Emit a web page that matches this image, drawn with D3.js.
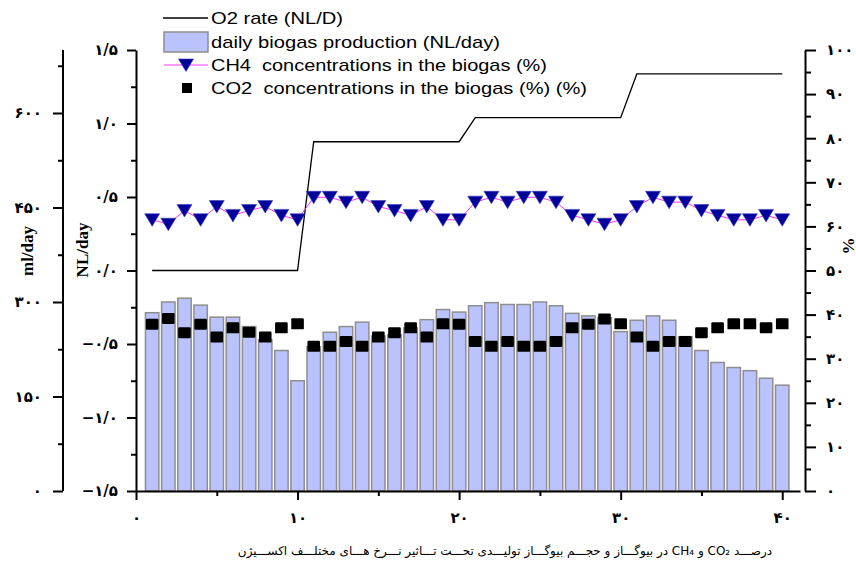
<!DOCTYPE html>
<html>
<head>
<meta charset="utf-8">
<script src="https://cdn.jsdelivr.net/npm/d3@7"></script>
<style>
  html, body { margin: 0; padding: 0; background: #fff; }
  #wrap { position: relative; width: 856px; height: 566px; overflow: hidden; }
  svg { position: absolute; left: 0; top: 0; }
  .caption { position: absolute; font-family: "DejaVu Sans", sans-serif; font-size: 12px; white-space: nowrap; color: #000; }
</style>
</head>
<body>
<div id="wrap"></div>
<script>
// ---------- DATA ----------
const days = d3.range(1, 41);
const biogas = [283, 300, 306, 295, 276, 276, 261, 240, 223, 175,
                229, 252, 261, 268, 246, 248, 259, 272, 288, 284,
                294, 299, 296, 296, 300, 294, 282, 278, 275, 253,
                271, 278, 271, 245, 223, 204, 196, 191, 179, 168];
const ch4 = [61.5, 60.5, 63.6, 61.5, 64.5, 62.5, 63.6, 64.5, 62.5, 61.5,
             66.6, 66.6, 65.5, 66.6, 64.5, 63.6, 62.5, 64.5, 61.5, 61.5,
             65.5, 66.6, 65.5, 66.6, 66.6, 65.5, 62.5, 61.5, 60.5, 61.5,
             64.5, 66.6, 65.5, 65.5, 63.6, 62.5, 61.5, 61.5, 62.5, 61.5];
const co2 = [37.8, 39.1, 35.9, 37.8, 34.9, 37.0, 36.0, 34.9, 37.0, 37.9,
             32.8, 32.8, 33.9, 32.8, 34.9, 35.9, 37.0, 34.9, 37.9, 37.8,
             33.9, 32.8, 33.9, 32.8, 32.8, 33.9, 37.0, 37.8, 39.0, 37.9,
             34.9, 32.8, 33.9, 33.9, 35.9, 37.0, 37.9, 37.9, 37.0, 37.9];
const o2rate = [0, 0, 0, 0, 0, 0, 0, 0, 0, 0,
                0.876, 0.876, 0.876, 0.876, 0.876, 0.876, 0.876, 0.876, 0.876, 0.876,
                1.04, 1.04, 1.04, 1.04, 1.04, 1.04, 1.04, 1.04, 1.04, 1.04,
                1.337, 1.337, 1.337, 1.337, 1.337, 1.337, 1.337, 1.337, 1.337, 1.337];

const xTicks = [0, 10, 20, 30, 40];
const xTickLabels = ["۰", "۱۰", "۲۰", "۳۰", "۴۰"];
const xMinor = [5, 15, 25, 35];
const mlTicks = [0, 150, 300, 450, 600];
const mlTickLabels = ["۰", "۱۵۰", "۳۰۰", "۴۵۰", "۶۰۰"];
const mlMinor = [75, 225, 375, 525, 675];
const nlTicks = [-1.5, -1.0, -0.5, 0, 0.5, 1.0, 1.5];
const nlTickLabels = ["−۱/۵", "−۱/۰", "−۰/۵", "۰/۰", "۰/۵", "۱/۰", "۱/۵"];
const nlMinor = [-1.25, -0.75, -0.25, 0.25, 0.75, 1.25];
const pctTicks = [0, 10, 20, 30, 40, 50, 60, 70, 80, 90, 100];
const pctTickLabels = ["۰", "۱۰", "۲۰", "۳۰", "۴۰", "۵۰", "۶۰", "۷۰", "۸۰", "۹۰", "۱۰۰"];
const pctMinor = [5, 15, 25, 35, 45, 55, 65, 75, 85, 95];

const legendLabels = ["O2 rate (NL/D)", "daily biogas production (NL/day)",
                      "CH4  concentrations in the biogas (%)",
                      "CO2  concentrations in the biogas (%) (%)"];
const captionText = "درصـــد CO₂ و CH₄ در بیوگـــاز و حجـــم بیوگـــاز تولیـــدی تحـــت تـــاثیر نـــرخ هـــای مختلـــف اکســـیژن";

// ---------- LAYOUT ----------
const W = 856, H = 566;
const plotL = 136, plotR = 800, plotT = 50, plotB = 491;
const outerAxisX = 63, rightAxisX = 805;

const x = d3.scaleLinear().domain([0, 41.1]).range([plotL, plotR]);
const yMl = d3.scaleLinear().domain([0, 700]).range([plotB, plotT]);
const yNl = d3.scaleLinear().domain([-1.5, 1.5]).range([plotB, plotT]);
const yPct = d3.scaleLinear().domain([0, 100]).range([plotB, plotT]);

const wrap = d3.select("#wrap");
const svg = wrap.append("svg").attr("width", W).attr("height", H);

const tickFont = "'DejaVu Sans', sans-serif";

function styleAxis(g, fontSize) {
  g.selectAll(".domain").attr("stroke", "#000").attr("stroke-width", 2);
  g.selectAll(".tick line").attr("stroke", "#000").attr("stroke-width", 2);
  g.selectAll(".tick text").attr("font-family", tickFont).attr("font-size", fontSize || 15)
    .attr("font-weight", "bold").attr("fill", "#000");
}

// ---------- BARS ----------
const bw = (x(1) - x(0)) * 0.83;
svg.append("g").selectAll("rect").data(days).join("rect")
  .attr("x", d => x(d) - bw / 2)
  .attr("y", (d, i) => yMl(biogas[i]))
  .attr("width", bw)
  .attr("height", (d, i) => yMl(0) - yMl(biogas[i]))
  .attr("fill", "#bbc3ff")
  .attr("stroke", "#8e8e8e")
  .attr("stroke-width", 1.5);

// ---------- O2 LINE ----------
svg.append("path")
  .datum(days)
  .attr("fill", "none")
  .attr("stroke", "#000")
  .attr("stroke-width", 1.3)
  .attr("d", d3.line().x(d => x(d)).y((d, i) => yNl(o2rate[i])));

// ---------- CH4 ----------
svg.append("path")
  .datum(days)
  .attr("fill", "none")
  .attr("stroke", "#ff33ff")
  .attr("stroke-width", 1)
  .attr("d", d3.line().x(d => x(d)).y((d, i) => yPct(ch4[i])));

const triPath = "M-7.5,-6 L7.5,-6 L0,6.5 Z";
svg.append("g").selectAll("path").data(days).join("path")
  .attr("transform", (d, i) => `translate(${x(d)},${yPct(ch4[i])})`)
  .attr("d", triPath)
  .attr("fill", "#00009a")
  .attr("stroke", "#3a3ac0")
  .attr("stroke-width", 0.6);

// ---------- CO2 ----------
svg.append("g").selectAll("rect").data(days).join("rect")
  .attr("x", d => x(d) - 6.3)
  .attr("y", (d, i) => yPct(co2[i]) - 5.5)
  .attr("width", 12.6)
  .attr("height", 11)
  .attr("rx", 1.2)
  .attr("fill", "#000");

// ---------- AXES ----------
const gx = svg.append("g").attr("transform", `translate(0,${plotB})`)
  .call(d3.axisBottom(x).tickValues(xTicks).tickSize(9).tickSizeOuter(0)
    .tickPadding(12).tickFormat((d, i) => xTickLabels[i]));
styleAxis(gx, 15);
const gxm = svg.append("g").attr("transform", `translate(0,${plotB})`)
  .call(d3.axisBottom(x).tickValues(xMinor).tickSize(5).tickFormat(""));
gxm.select(".domain").remove();
styleAxis(gxm);

const gNl = svg.append("g").attr("transform", `translate(${plotL},0)`)
  .call(d3.axisLeft(yNl).tickValues(nlTicks).tickSize(9).tickSizeOuter(0)
    .tickPadding(9).tickFormat((d, i) => nlTickLabels[i]));
styleAxis(gNl);
const gNlm = svg.append("g").attr("transform", `translate(${plotL},0)`)
  .call(d3.axisLeft(yNl).tickValues(nlMinor).tickSize(5).tickFormat(""));
gNlm.select(".domain").remove();
styleAxis(gNlm);

const gMl = svg.append("g").attr("transform", `translate(${outerAxisX},0)`)
  .call(d3.axisLeft(yMl).tickValues(mlTicks).tickSize(10).tickSizeOuter(0)
    .tickPadding(11).tickFormat((d, i) => mlTickLabels[i]));
gMl.select(".domain").attr("d", `M0,${plotB}V${plotT}`);
styleAxis(gMl);
const gMlm = svg.append("g").attr("transform", `translate(${outerAxisX},0)`)
  .call(d3.axisLeft(yMl).tickValues(mlMinor).tickSize(5).tickFormat(""));
gMlm.select(".domain").remove();
styleAxis(gMlm);

const gP = svg.append("g").attr("transform", `translate(${rightAxisX},0)`)
  .call(d3.axisRight(yPct).tickValues(pctTicks).tickSize(11).tickSizeOuter(0)
    .tickPadding(10).tickFormat((d, i) => pctTickLabels[i]));
styleAxis(gP);
const gPm = svg.append("g").attr("transform", `translate(${rightAxisX},0)`)
  .call(d3.axisRight(yPct).tickValues(pctMinor).tickSize(6).tickFormat(""));
gPm.select(".domain").remove();
styleAxis(gPm);

// ---------- AXIS TITLES ----------
const titleFont = "'Liberation Serif', 'Times New Roman', serif";
function vTitle(txt, cx, cy) {
  svg.append("text")
    .attr("transform", `translate(${cx},${cy}) rotate(-90)`)
    .attr("text-anchor", "middle")
    .attr("dominant-baseline", "central")
    .attr("font-family", titleFont)
    .attr("font-weight", "bold")
    .attr("font-size", 17)
    .text(txt);
}
vTitle("ml/day", 27, 251);
vTitle("NL/day", 82, 250);
vTitle("%", 848, 246);

// ---------- LEGEND ----------
const legFont = "'Liberation Sans', Arial, sans-serif";
const legRowsY = [18, 42, 65, 88];
const legTextLen = [132, 289, 336, 376];
const leg = svg.append("g");
leg.append("line").attr("x1", 163).attr("x2", 208).attr("y1", legRowsY[0]).attr("y2", legRowsY[0])
  .attr("stroke", "#000").attr("stroke-width", 1.3);
leg.append("rect").attr("x", 164).attr("y", legRowsY[1] - 10).attr("width", 44).attr("height", 20)
  .attr("fill", "#bbc3ff").attr("stroke", "#8e8e8e").attr("stroke-width", 1.5);
leg.append("line").attr("x1", 164).attr("x2", 208).attr("y1", legRowsY[2]).attr("y2", legRowsY[2])
  .attr("stroke", "#ff33ff").attr("stroke-width", 1);
leg.append("path").attr("transform", `translate(186,${legRowsY[2]})`).attr("d", triPath)
  .attr("fill", "#00009a").attr("stroke", "#3a3ac0").attr("stroke-width", 0.6);
leg.append("rect").attr("x", 182).attr("y", legRowsY[3] - 5).attr("width", 10).attr("height", 10)
  .attr("fill", "#000");
leg.selectAll("text.lt").data(legendLabels).join("text")
  .attr("class", "lt")
  .attr("x", 211)
  .attr("y", (d, i) => legRowsY[i] + 6)
  .attr("font-family", legFont)
  .attr("font-size", 17)
  .attr("textLength", (d, i) => legTextLen[i])
  .attr("lengthAdjust", "spacingAndGlyphs")
  .style("white-space", "pre")
  .attr("fill", "#000")
  .text(d => d);

// ---------- CAPTION ----------
wrap.append("div")
  .attr("class", "caption")
  .attr("dir", "rtl")
  .style("left", "237px")
  .style("width", "536px")
  .style("top", "544px")
  .style("text-align", "center")
  .text(captionText);
</script>
</body>
</html>
